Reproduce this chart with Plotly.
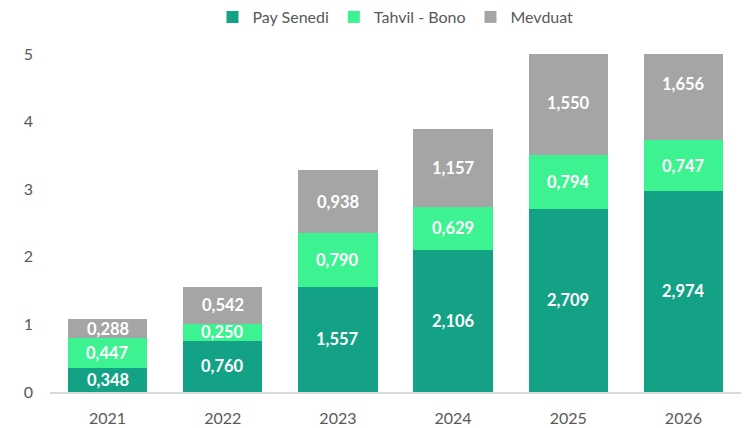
import plotly.graph_objects as go

years = ["2021", "2022", "2023", "2024", "2025", "2026"]
pay_senedi = [0.348, 0.760, 1.557, 2.106, 2.709, 2.974]
tahvil_bono = [0.447, 0.250, 0.790, 0.629, 0.794, 0.747]
mevduat = [0.288, 0.542, 0.938, 1.157, 1.550, 1.656]

series = [
    ("Pay Senedi", pay_senedi, "#14A286"),
    ("Tahvil - Bono", tahvil_bono, "#3DF290"),
    ("Mevduat", mevduat, "#A5A5A5"),
]

FONT = "Lato, 'Open Sans', sans-serif"


def fmt(v):
    return f"{v:.3f}".replace(".", ",")


fig = go.Figure()
annotations = []
base = [0.0] * len(years)
for name, vals, color in series:
    fig.add_trace(go.Bar(
        x=years, y=vals, name=name,
        marker=dict(color=color, line=dict(width=0)),
    ))
    # value labels centred on each full segment (category index on x)
    for i, v in enumerate(vals):
        annotations.append(dict(
            x=i, y=base[i] + v / 2, xref="x", yref="y",
            text=f"<b>{fmt(v)}</b>", showarrow=False,
            font=dict(family=FONT, size=16.5, color="white"),
        ))
        base[i] += v

fig.update_layout(
    barmode="stack",
    bargap=0.31,
    width=751, height=428,
    margin=dict(l=50, r=10, t=54, b=36),
    paper_bgcolor="white", plot_bgcolor="white",
    font=dict(family=FONT, size=14, color="#595959"),
    legend=dict(
        orientation="h", x=0.5, xanchor="center", y=1.0, yanchor="top",
        yref="container", font=dict(size=16, color="#595959"),
        itemwidth=30, traceorder="normal",
    ),
    annotations=annotations,
    showlegend=True,
)
fig.update_xaxes(
    type="category", range=[-0.5, len(years) - 0.5], automargin=False,
    showline=True, linecolor="#D9D9D9", linewidth=1.5,
    showgrid=False, ticks="", ticklabelstandoff=11,
    tickfont=dict(size=16, color="#595959"),
)
fig.update_yaxes(
    range=[0, 5], dtick=1, showgrid=False, zeroline=False, automargin=False,
    showline=False, ticks="", ticklabelstandoff=16,
    tickfont=dict(size=16, color="#595959"),
)

fig.write_html("out.html")
